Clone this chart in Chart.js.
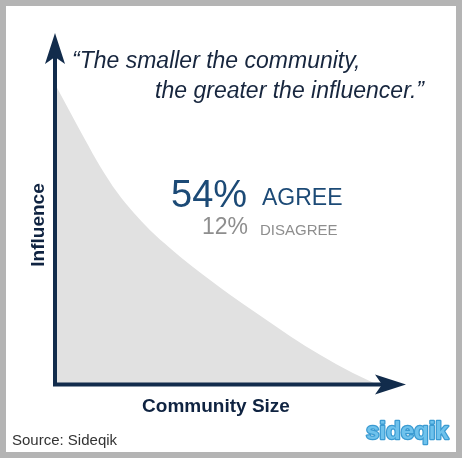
<!DOCTYPE html>
<html>
<head>
<meta charset="utf-8">
<script src="https://cdn.jsdelivr.net/npm/chart.js@4/dist/chart.umd.min.js"></script>
<style>
  html, body { margin: 0; padding: 0; }
  body { width: 462px; height: 458px; background: #b4b4b4; position: relative; overflow: hidden; }
  #panel { position: absolute; left: 6px; top: 6px; width: 450px; height: 446px; background: #ffffff; }
  #wrap { position: absolute; left: 0; top: 0; width: 462px; height: 458px; }
</style>
</head>
<body>
<div id="panel"></div>
<div id="wrap"><canvas id="c"></canvas></div>
<script>
// ---- data ----
const communitySize = [0, 4.3, 8.6, 12.9, 17.7, 22.3, 27.1, 32.9, 38.6, 44.3, 50, 57.1, 67.1, 75.7, 85.1, 91.7];
const influence     = [85.5, 77.5, 69.6, 62.0, 54.7, 49.0, 43.9, 38.7, 34.0, 29.6, 25.4, 20.5, 13.7, 8.3, 3.1, 0];
const xTitle = 'Community Size';
const yTitle = 'Influence';
const quoteLines = ['\u201CThe smaller the community,', 'the greater the influencer.\u201D'];
const agreeValue = '54%';
const agreeLabel = 'AGREE';
const disagreeValue = '12%';
const disagreeLabel = 'DISAGREE';
const sourceText = 'Source: Sideqik';
const logoText = 'sideqik';

const FONT = '"Liberation Sans", Arial, Helvetica, sans-serif';
const AXIS = '#122c4c';

const decor = {
  id: 'decor',
  afterDatasetsDraw(chart) {
    const ctx = chart.ctx;
    const xs = chart.scales.x, ys = chart.scales.y;
    const ox = xs.getPixelForValue(0), oy = ys.getPixelForValue(0) + 0.5;
    const tipY = ys.getPixelForValue(100), tipX = xs.getPixelForValue(100) + 1;
    ctx.save();
    ctx.strokeStyle = AXIS; ctx.fillStyle = AXIS; ctx.lineWidth = 4;
    ctx.beginPath();
    ctx.moveTo(ox, oy + 2); ctx.lineTo(ox, tipY + 20);
    ctx.moveTo(ox - 2, oy); ctx.lineTo(tipX - 20, oy);
    ctx.stroke();
    // arrowheads
    ctx.beginPath();
    ctx.moveTo(ox, tipY); ctx.lineTo(ox - 10, tipY + 31); ctx.lineTo(ox, tipY + 24); ctx.lineTo(ox + 10, tipY + 31); ctx.closePath();
    ctx.fill();
    ctx.beginPath();
    ctx.moveTo(tipX, oy); ctx.lineTo(tipX - 31, oy - 10); ctx.lineTo(tipX - 24, oy); ctx.lineTo(tipX - 31, oy + 10); ctx.closePath();
    ctx.fill();
    ctx.restore();
  },
  afterDraw(chart) {
    const ctx = chart.ctx;
    ctx.save();
    ctx.textBaseline = 'alphabetic';
    // quote
    ctx.fillStyle = '#17263e';
    ctx.font = 'italic 23px ' + FONT;
    ctx.textAlign = 'left';
    ctx.fillText(quoteLines[0], 72, 68);
    ctx.textAlign = 'right';
    ctx.fillText(quoteLines[1], 424, 98);
    // stats
    ctx.textAlign = 'left';
    ctx.fillStyle = '#1c4a76';
    ctx.font = '38px ' + FONT;
    ctx.fillText(agreeValue, 171, 207);
    ctx.font = '23px ' + FONT;
    ctx.fillText(agreeLabel, 262, 205);
    ctx.fillStyle = '#8e8e8e';
    ctx.font = '23px ' + FONT;
    ctx.fillText(disagreeValue, 202, 234);
    ctx.font = '15px ' + FONT;
    ctx.fillText(disagreeLabel, 260, 235);
    // axis titles
    ctx.fillStyle = '#0f2341';
    ctx.font = 'bold 19px ' + FONT;
    ctx.textAlign = 'center';
    ctx.fillText(xTitle, 216, 412);
    ctx.save();
    ctx.translate(44, 225);
    ctx.rotate(-Math.PI / 2);
    ctx.fillText(yTitle, 0, 0);
    ctx.restore();
    // source
    ctx.textAlign = 'left';
    ctx.fillStyle = '#333333';
    ctx.font = '15px ' + FONT;
    ctx.fillText(sourceText, 12, 445);
    // logo
    ctx.font = 'bold 24px ' + FONT;
    ctx.lineJoin = 'round';
    ctx.strokeStyle = '#3b9bd2';
    ctx.lineWidth = 2.5;
    ctx.strokeText(logoText, 366, 439);
    ctx.fillStyle = '#6fc2ec';
    ctx.fillText(logoText, 366, 439);
    ctx.restore();
  }
};

new Chart(document.getElementById('c'), {
  type: 'line',
  data: {
    datasets: [{
      data: communitySize.map((x, i) => ({ x: x, y: influence[i] })),
      fill: 'origin',
      backgroundColor: '#e1e1e1',
      borderColor: 'rgba(0,0,0,0)',
      borderWidth: 0,
      pointRadius: 0,
      cubicInterpolationMode: 'monotone'
    }]
  },
  options: {
    responsive: true,
    maintainAspectRatio: false,
    animation: false,
    layout: { padding: { left: 55, right: 57, top: 33, bottom: 74 } },
    scales: {
      x: { type: 'linear', min: 0, max: 100, display: false },
      y: { type: 'linear', min: 0, max: 100, display: false }
    },
    plugins: { legend: { display: false }, tooltip: { enabled: false } }
  },
  plugins: [decor]
});
</script>
</body>
</html>
